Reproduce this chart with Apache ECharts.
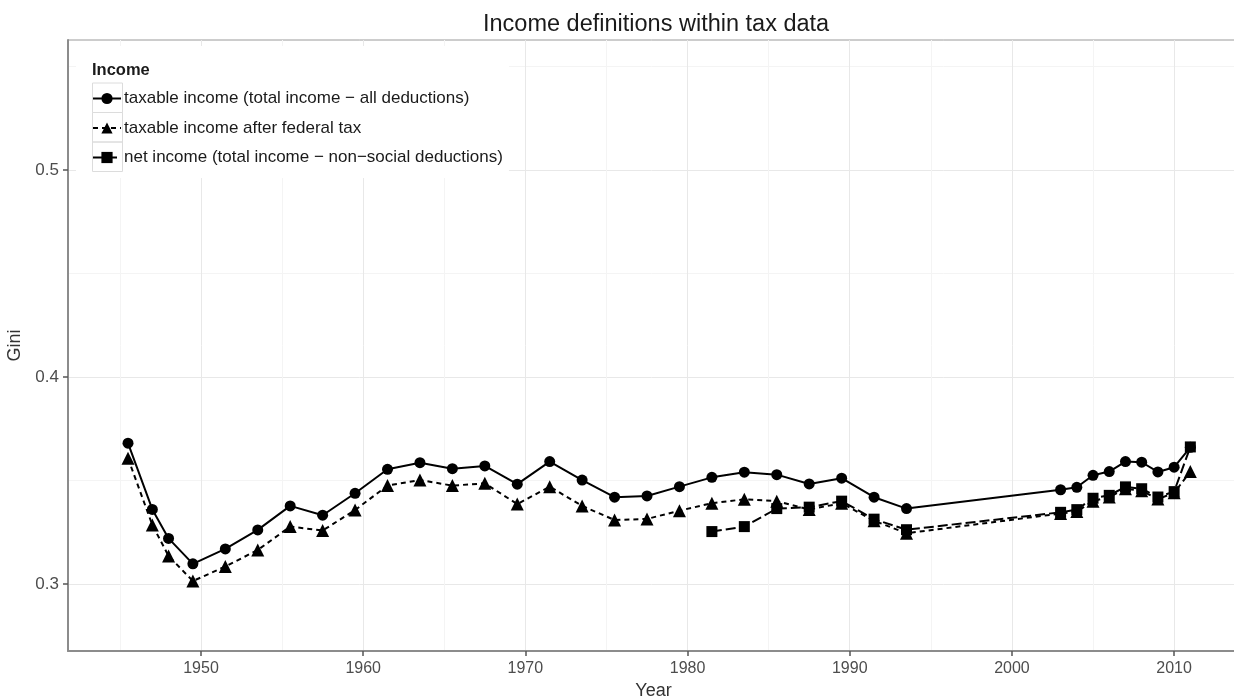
<!DOCTYPE html>
<html>
<head>
<meta charset="utf-8">
<title>Income definitions within tax data</title>
<script src="https://cdn.jsdelivr.net/npm/echarts@6/dist/echarts.min.js"></script>
<style>
  html, body { margin: 0; padding: 0; background: #ffffff; }
  #chart { width: 1234px; height: 699px; }
</style>
</head>
<body>
<div id="chart"></div>
<script>
// Gini coefficients by year for three income definitions
const years = [1945.5, 1947, 1948, 1949.5, 1951.5, 1953.5, 1955.5, 1957.5, 1959.5, 1961.5,
  1963.5, 1965.5, 1967.5, 1969.5, 1971.5, 1973.5, 1975.5, 1977.5, 1979.5, 1981.5,
  1983.5, 1985.5, 1987.5, 1989.5, 1991.5, 1993.5, 2003, 2004, 2005, 2006,
  2007, 2008, 2009, 2010, 2011];

const taxableIncome = [0.368, 0.336, 0.322, 0.3097, 0.3169, 0.3261, 0.3377, 0.3332, 0.3438, 0.3554,
  0.3586, 0.3557, 0.3570, 0.3482, 0.3591, 0.3502, 0.3419, 0.3425, 0.3470, 0.3515,
  0.3540, 0.3528, 0.3483, 0.3511, 0.3419, 0.3364, 0.3455, 0.3467, 0.3525, 0.3543,
  0.3591, 0.3588, 0.3541, 0.3564, 0.366];

const afterFederalTax = [0.3607, 0.3285, 0.3135, 0.3014, 0.3084, 0.3164, 0.3277, 0.3258, 0.3357, 0.3475,
  0.3502, 0.3475, 0.3486, 0.3386, 0.3470, 0.3377, 0.3309, 0.3314, 0.3354, 0.3390,
  0.3409, 0.3400, 0.3360, 0.3390, 0.3305, 0.3245, 0.3340, 0.3350, 0.3400, 0.3420,
  0.3460, 0.3450, 0.3410, 0.3440, 0.3543];

const netIncome = [null, null, null, null, null, null, null, null, null, null,
  null, null, null, null, null, null, null, null, null, 0.3253,
  0.3277, 0.3364, 0.3371, 0.3400, 0.3313, 0.3262, 0.3346, 0.3359, 0.3414, 0.3428,
  0.3469, 0.3460, 0.3420, 0.3446, 0.3662];

const seriesNames = [
  'taxable income (total income \u2212 all deductions)',
  'taxable income after federal tax',
  'net income (total income \u2212 non\u2212social deductions)'
];

const yMajorTicks = [0.3, 0.4, 0.5];
const yMinorTicks = [0.35, 0.45, 0.55];
const xMajorTicks = [1950, 1960, 1970, 1980, 1990, 2000, 2010];
const xMinorTicks = [1945, 1955, 1965, 1975, 1985, 1995, 2005];

const X_MIN = 1941.8, X_MAX = 2014;
const Y_MIN = 0.2676, Y_MAX = 0.5628;

const FONT = '"Liberation Sans", Arial, Helvetica, sans-serif';

function pairs(values) {
  return years.map((yr, i) => [yr, values[i]]);
}

const chart = echarts.init(document.getElementById('chart'), null, { renderer: 'canvas' });

function lineSeries(name, values, symbol, size, dash) {
  return {
    name: name,
    type: 'line',
    xAxisIndex: 0,
    yAxisIndex: 0,
    data: pairs(values),
    symbol: symbol,
    symbolSize: size,
    showAllSymbol: true,
    connectNulls: false,
    itemStyle: { color: '#000000' },
    lineStyle: { color: '#000000', width: 2, type: dash },
    emphasis: { disabled: true },
    z: 3
  };
}

// Light frames around each legend key
const KEY_ROW_Y = [97.5, 127, 156.5];
const keyFrames = KEY_ROW_Y.map(cy => ({
  type: 'rect',
  z: 100,
  silent: true,
  shape: { x: 92.5, y: cy - 14.5, width: 30, height: 29.5 },
  style: { fill: null, stroke: '#dcdcdc', lineWidth: 1 }
}));

const option = {
  animation: false,
  backgroundColor: '#ffffff',
  textStyle: { fontFamily: FONT },
  title: [
    {
      text: 'Income definitions within tax data',
      left: 483,
      top: 13,
      padding: 0,
      textStyle: { fontFamily: FONT, fontSize: 23.5, fontWeight: 'normal', color: '#1a1a1a' }
    },
    {
      text: 'Income',
      left: 92,
      top: 62,
      padding: 0,
      textStyle: { fontFamily: FONT, fontSize: 16.5, fontWeight: 'bold', color: '#1a1a1a' }
    }
  ],
  legend: {
    orient: 'vertical',
    left: 76,
    top: 46,
    padding: [44, 6, 12, 16],
    backgroundColor: '#ffffff',
    itemWidth: 28,
    itemHeight: 14,
    itemGap: 12.5,
    selectedMode: false,
    data: seriesNames,
    textStyle: { fontFamily: FONT, fontSize: 17, color: '#1a1a1a', padding: [0, 0, 0, -2] }
  },
  graphic: keyFrames,
  grid: {
    left: 68,
    right: -5,
    top: 40,
    bottom: 48,
    outerBoundsMode: 'none',
    containLabel: false,
    show: true,
    borderColor: '#9a9a9a',
    borderWidth: 1
  },
  xAxis: [
    {
      type: 'value',
      min: X_MIN,
      max: X_MAX,
      name: 'Year',
      nameLocation: 'middle',
      nameGap: 27,
      nameTextStyle: { fontFamily: FONT, fontSize: 18, color: '#333333' },
      axisLine: { show: true, onZero: false, lineStyle: { color: '#8c8c8c', width: 2 } },
      axisTick: { show: true, length: 5, customValues: xMajorTicks, lineStyle: { color: '#555555', width: 1.5 } },
      axisLabel: { customValues: xMajorTicks, margin: 10, fontFamily: FONT, fontSize: 16, color: '#4d4d4d',
        formatter: v => String(v) },
      splitLine: { show: true, lineStyle: { color: '#e8e8e8', width: 1 } }
    },
    {
      type: 'value',
      min: X_MIN,
      max: X_MAX,
      position: 'bottom',
      axisLine: { show: false },
      axisTick: { show: false, customValues: xMinorTicks },
      axisLabel: { show: false },
      splitLine: { show: true, lineStyle: { color: '#f4f4f4', width: 1 } }
    }
  ],
  yAxis: [
    {
      type: 'value',
      min: Y_MIN,
      max: Y_MAX,
      name: 'Gini',
      nameLocation: 'middle',
      nameGap: 39,
      nameRotate: 90,
      nameTextStyle: { fontFamily: FONT, fontSize: 18, color: '#333333' },
      axisLine: { show: true, onZero: false, lineStyle: { color: '#8c8c8c', width: 2 } },
      axisTick: { show: true, length: 5, customValues: yMajorTicks, lineStyle: { color: '#555555', width: 1.5 } },
      axisLabel: { customValues: yMajorTicks, margin: 9, fontFamily: FONT, fontSize: 17, color: '#4d4d4d',
        formatter: v => v.toFixed(1) },
      splitLine: { show: true, lineStyle: { color: '#e8e8e8', width: 1 } }
    },
    {
      type: 'value',
      min: Y_MIN,
      max: Y_MAX,
      position: 'left',
      axisLine: { show: false },
      axisTick: { show: false, customValues: yMinorTicks },
      axisLabel: { show: false },
      splitLine: { show: true, lineStyle: { color: '#f4f4f4', width: 1 } }
    }
  ],
  series: [
    lineSeries(seriesNames[0], taxableIncome, 'circle', 11, 'solid'),
    lineSeries(seriesNames[1], afterFederalTax, 'triangle', 13, [5, 4]),
    lineSeries(seriesNames[2], netIncome, 'rect', 11, [10, 4])
  ]
};

chart.setOption(option);
</script>
</body>
</html>
